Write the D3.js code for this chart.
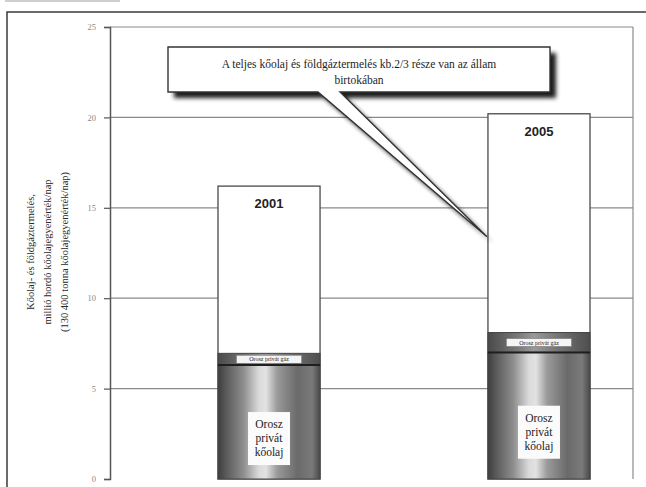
<!DOCTYPE html>
<html>
<head>
<meta charset="utf-8">
<script src="https://cdn.jsdelivr.net/npm/d3@7"></script>
<style>
  html, body { margin: 0; padding: 0; background: #fff; }
  svg { display: block; }
</style>
</head>
<body>
<svg id="chart" width="646" height="487"></svg>
<script>
// Kőolaj- és földgáztermelés, millió hordó kőolajegyenérték/nap
const years = ["2001", "2005"];
const oilValues = [6.3, 7.0];      // Orosz privát kőolaj
const gasValues = [0.65, 1.1];     // Orosz privát gáz
const totalValues = [16.2, 20.2];  // teljes termelés
const yTicks = [0, 5, 10, 15, 20, 25];
const yLabelLines = [
  "Kőolaj- és földgáztermelés,",
  "millió hordó kőolajegyenérték/nap",
  "(130 400 tonna kőolajegyenérték/nap)"
];
const oilLabel = ["Orosz", "privát", "kőolaj"];
const gasLabel = "Orosz privát gáz";
const calloutLines = [
  "A teljes kőolaj és földgáztermelés kb.2/3 része van az állam",
  "birtokában"
];

const svg = d3.select("#chart");
const serif = "'Liberation Serif', 'Times New Roman', serif";
const sans = "'Liberation Sans', Arial, sans-serif";

const plot = { left: 110, right: 633, top: 27, bottom: 479 };

const y = d3.scaleLinear().domain([0, 25]).range([plot.bottom, plot.top]);
const x = d3.scaleBand().domain(years).range([218, 590]).paddingInner(0.622).paddingOuter(0);

const defs = svg.append("defs");

// cylinder-like shading for the bars
function cylinder(id, stops) {
  const g = defs.append("linearGradient").attr("id", id)
    .attr("x1", "0%").attr("x2", "100%").attr("y1", "0%").attr("y2", "0%");
  stops.forEach(([o, c]) => g.append("stop").attr("offset", o).attr("stop-color", c));
}
cylinder("oilGrad", [
  [0, "#3e3e3e"], [0.08, "#5a5a5a"], [0.25, "#8e8e8e"], [0.4, "#dadada"],
  [0.47, "#e2e2e2"], [0.58, "#9a9a9a"], [0.78, "#6a6a6a"], [0.92, "#7a7a7a"], [1, "#4a4a4a"]
]);
cylinder("gasGrad", [
  [0, "#4a4a4a"], [0.3, "#7a7a7a"], [0.45, "#9a9a9a"], [0.7, "#727272"], [1, "#4e4e4e"]
]);

const blur = defs.append("filter").attr("id", "shadowBlur")
  .attr("x", "-10%").attr("y", "-10%").attr("width", "130%").attr("height", "150%");
blur.append("feGaussianBlur").attr("stdDeviation", 2.2);

// page strip and outer frame
svg.append("rect").attr("x", 5).attr("y", 0).attr("width", 115).attr("height", 2).attr("fill", "#cfcfcf");
svg.append("path")
  .attr("d", "M7,490 L7,12 L650,12")
  .attr("fill", "none").attr("stroke", "#3a3a3a").attr("stroke-width", 1.5);

// gridlines and plot border
svg.append("g").selectAll("line")
  .data(yTicks.filter(d => d > 0))
  .join("line")
  .attr("x1", plot.left).attr("x2", plot.right)
  .attr("y1", d => y(d)).attr("y2", d => y(d))
  .attr("stroke", "#8a8a8a").attr("stroke-width", 1.2);
svg.append("line")
  .attr("x1", plot.right).attr("x2", plot.right)
  .attr("y1", plot.top).attr("y2", plot.bottom)
  .attr("stroke", "#8a8a8a").attr("stroke-width", 1.2);

// y axis
const yAxis = svg.append("g")
  .attr("transform", `translate(${plot.left},0)`)
  .call(d3.axisLeft(y).tickValues(yTicks).tickSize(6).tickPadding(8));
yAxis.select(".domain").attr("stroke", "#555").attr("stroke-width", 1.5);
yAxis.selectAll(".tick line").attr("stroke", "#555").attr("stroke-width", 1.2);
yAxis.selectAll(".tick text")
  .attr("font-family", serif).attr("font-size", 8.5).attr("fill", "#888");

// y axis title
const yTitle = svg.append("text")
  .attr("transform", "translate(0,252) rotate(-90)")
  .attr("font-family", serif).attr("font-size", 10.5).attr("fill", "#2a2a2a")
  .attr("text-anchor", "middle");
yLabelLines.forEach((t, i) => {
  yTitle.append("tspan").attr("x", 0).attr("y", 34 + i * 17).text(t);
});

// bars
const rows = years.map((yr, i) => ({
  year: yr, oil: oilValues[i], gas: gasValues[i], total: totalValues[i]
}));
const bars = svg.append("g").selectAll("g").data(rows).join("g");
const bw = x.bandwidth();

// white upper part (total)
bars.append("rect")
  .attr("x", d => x(d.year)).attr("width", bw)
  .attr("y", d => y(d.total)).attr("height", d => y(0) - y(d.total))
  .attr("fill", "#fff").attr("stroke", "#4a4a4a").attr("stroke-width", 1.3);
// gas segment
bars.append("rect")
  .attr("x", d => x(d.year)).attr("width", bw)
  .attr("y", d => y(d.oil + d.gas)).attr("height", d => y(d.oil) - y(d.oil + d.gas))
  .attr("fill", "url(#gasGrad)").attr("stroke", "#444").attr("stroke-width", 1);
// oil segment
bars.append("rect")
  .attr("x", d => x(d.year)).attr("width", bw)
  .attr("y", d => y(d.oil)).attr("height", d => y(0) - y(d.oil))
  .attr("fill", "url(#oilGrad)").attr("stroke", "#444").attr("stroke-width", 1);
bars.append("line")
  .attr("x1", d => x(d.year)).attr("x2", d => x(d.year) + bw)
  .attr("y1", d => y(d.oil)).attr("y2", d => y(d.oil))
  .attr("stroke", "#1e1e1e").attr("stroke-width", 2);

// gas label box
bars.append("rect")
  .attr("x", d => x(d.year) + bw * 0.18).attr("width", bw * 0.64)
  .attr("y", d => (y(d.oil + d.gas) + y(d.oil)) / 2 - 4).attr("height", 8)
  .attr("fill", "#f4f4f4").attr("stroke", "#666").attr("stroke-width", 0.5);
bars.append("text")
  .attr("x", d => x(d.year) + bw / 2)
  .attr("y", d => (y(d.oil + d.gas) + y(d.oil)) / 2 + 2.2)
  .attr("text-anchor", "middle").attr("font-family", serif).attr("font-size", 6)
  .attr("fill", "#222").text(gasLabel);

// oil label box
bars.append("rect")
  .attr("x", d => x(d.year) + bw / 2 - 21).attr("width", 42)
  .attr("y", d => y(d.oil / 2) - 10).attr("height", 53)
  .attr("fill", "#fbfbfb");
bars.each(function(d) {
  const t = d3.select(this).append("text")
    .attr("text-anchor", "middle").attr("font-family", serif).attr("font-size", 11.5)
    .attr("fill", "#222");
  oilLabel.forEach((s, i) => {
    t.append("tspan").attr("x", x(d.year) + bw / 2).attr("y", y(d.oil / 2) + 6 + i * 14).text(s);
  });
});

// year labels
bars.append("text")
  .attr("x", d => x(d.year) + bw / 2).attr("y", d => y(d.total) + 22)
  .attr("text-anchor", "middle").attr("font-family", sans).attr("font-weight", "bold")
  .attr("font-size", 13).attr("fill", "#222").text(d => d.year);

// callout
const box = { x: 168, y: 47, w: 382, h: 45 };
const tip = [x(years[1]) - 1, y(13.4)];
const calloutPath =
  `M${box.x},${box.y} H${box.x + box.w} V${box.y + box.h} H340 L${tip[0]},${tip[1]} L318,${box.y + box.h} H${box.x} Z`;
svg.append("path")
  .attr("d", calloutPath)
  .attr("transform", "translate(6,6)")
  .attr("fill", "#1e1e1e").attr("filter", "url(#shadowBlur)");
svg.append("path")
  .attr("d", calloutPath)
  .attr("fill", "#fff").attr("stroke", "#333").attr("stroke-width", 1.4)
  .attr("stroke-linejoin", "miter");
const ct = svg.append("text")
  .attr("text-anchor", "middle").attr("font-family", serif).attr("font-size", 11.5).attr("fill", "#1e1e1e");
calloutLines.forEach((s, i) => {
  ct.append("tspan").attr("x", box.x + box.w / 2).attr("y", 68 + i * 16).text(s);
});
</script>
</body>
</html>
